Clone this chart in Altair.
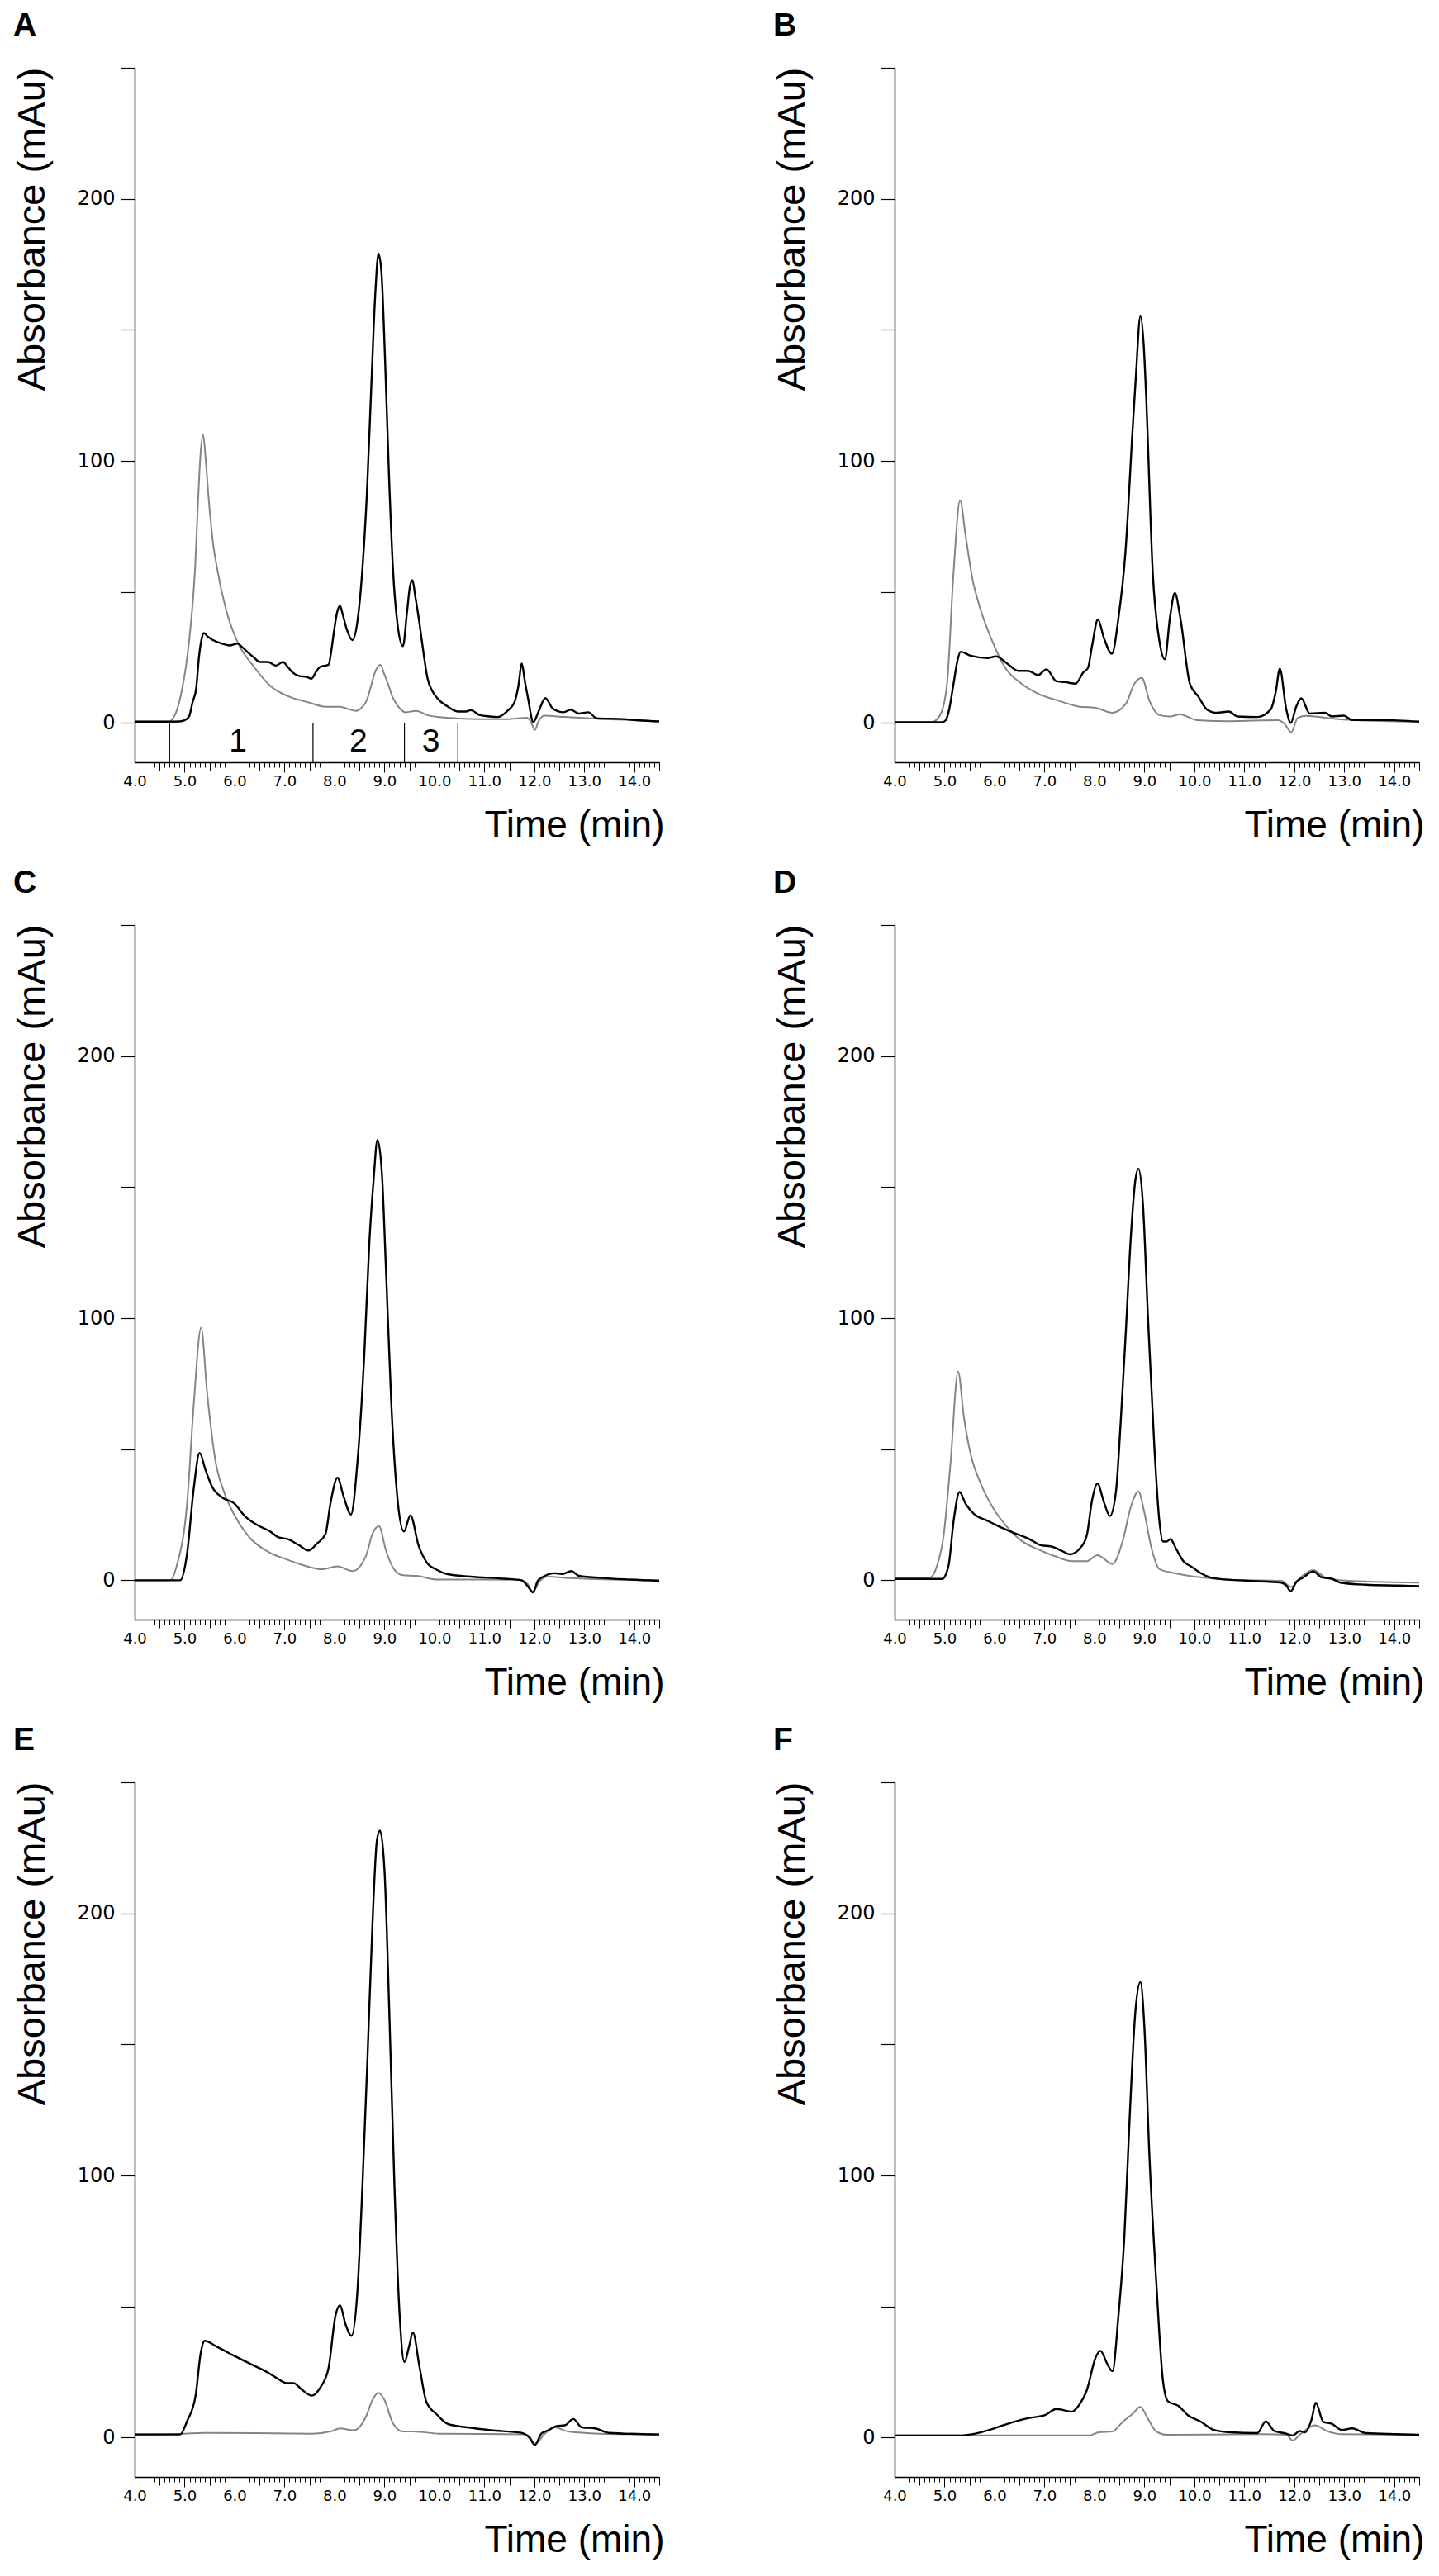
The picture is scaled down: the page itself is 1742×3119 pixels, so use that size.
import altair as alt
import pandas as pd

# ---------------- data (time in min, absorbance in mAu) ----------------
A_BLACK = [(4.0, 0.5), (4.6, 0.5), (4.9, 0.6), (5.0, 1.0), (5.09, 2.5), (5.16, 8), (5.23, 13), (5.29, 25.6),
           (5.34, 32), (5.39, 34.3), (5.46, 33), (5.56, 31.7), (5.75, 30.3), (5.9, 29.6), (6.06, 30.3),
           (6.15, 29), (6.28, 26.7), (6.4, 24.8), (6.5, 23.3), (6.67, 23.3), (6.83, 21.9), (6.97, 23.3),
           (7.06, 21.5), (7.16, 19.3), (7.3, 17.9), (7.44, 17.6), (7.54, 16.9), (7.63, 19.5), (7.71, 21.4),
           (7.88, 22.2), (7.94, 28), (7.99, 35), (8.05, 42), (8.11, 44.7), (8.17, 41), (8.24, 36.1),
           (8.36, 31.6), (8.47, 40.3), (8.56, 59), (8.65, 88), (8.74, 130), (8.82, 165), (8.88, 179),
           (8.94, 172), (9.01, 140), (9.09, 95), (9.17, 59), (9.26, 38), (9.37, 29.3), (9.45, 42),
           (9.51, 52), (9.56, 54.5), (9.62, 48), (9.7, 38.2), (9.78, 27), (9.86, 17.2), (9.95, 12.5),
           (10.08, 9.0), (10.25, 6.5), (10.47, 4.4), (10.63, 4.4), (10.73, 4.9), (10.91, 3.0), (11.1, 2.5),
           (11.27, 2.3), (11.46, 4.6), (11.6, 7.8), (11.68, 14), (11.75, 22.7), (11.81, 16), (11.87, 9.9),
           (11.98, 0.4), (12.09, 4.6), (12.22, 9.5), (12.37, 5.5), (12.59, 4.1), (12.73, 5.1), (12.89, 3.6),
           (13.08, 4.1), (13.25, 1.8), (13.77, 1.5), (14.1, 1.0), (14.5, 0.6)]
A_GRAY = [(4.0, 0.5), (4.68, 0.5), (4.82, 3.6), (4.96, 14), (5.03, 22), (5.1, 33), (5.21, 59), (5.27, 85),
          (5.32, 103), (5.37, 110), (5.42, 101), (5.48, 86), (5.56, 70), (5.65, 59), (5.84, 42.4),
          (6.06, 30.9), (6.39, 21.4), (6.72, 14.1), (7.05, 10.4), (7.49, 7.8), (7.82, 6.2), (8.1, 6.2),
          (8.25, 5.5), (8.43, 4.6), (8.55, 6), (8.65, 8.8), (8.73, 14), (8.81, 19.3), (8.92, 22.2),
          (8.99, 19), (9.07, 15.1), (9.16, 10), (9.26, 6.7), (9.42, 4.1), (9.53, 4.4), (9.64, 4.6),
          (9.86, 3.0), (10.25, 2.0), (10.9, 1.5), (11.5, 1.5), (11.85, 2.0), (11.93, 0.5), (12.01, -2.7),
          (12.08, 0.5), (12.2, 2.8), (12.6, 2.3), (13.2, 1.7), (13.8, 1.2), (14.5, 0.6)]

B_BLACK = [(4.0, 0.3), (4.95, 0.3), (5.02, 1.0), (5.08, 4.1), (5.18, 15), (5.26, 24), (5.32, 27.2),
           (5.52, 25.7), (5.86, 24.8), (6.03, 25.4), (6.26, 22.6), (6.47, 19.9), (6.67, 19.9), (6.87, 18.3),
           (7.04, 20.5), (7.24, 15.9), (7.41, 15.6), (7.62, 15.0), (7.78, 19.4), (7.87, 21.0), (7.95, 29.2),
           (8.07, 39.5), (8.19, 32.4), (8.35, 26.4), (8.48, 40), (8.62, 65), (8.76, 110.8), (8.83, 132.5),
           (8.92, 155.2), (8.99, 143), (9.03, 127), (9.17, 56.4), (9.3, 31.3), (9.41, 24.3), (9.51, 40),
           (9.61, 49.6), (9.72, 40), (9.91, 15), (10.08, 10.1), (10.25, 5.2), (10.45, 3.9), (10.69, 4.4),
           (10.86, 2.5), (11.26, 2.3), (11.53, 5.2), (11.63, 12), (11.71, 20.7), (11.84, 5.2), (11.93, 0),
           (12.04, 6.3), (12.14, 9.4), (12.31, 3.6), (12.62, 3.9), (12.75, 2.5), (12.99, 2.8), (13.16, 1.1),
           (13.76, 1.1), (14.5, 0.5)]
B_GRAY = [(4.0, 0.3), (4.74, 0.3), (4.91, 3), (5.05, 15), (5.18, 57.5), (5.31, 84.9), (5.42, 71.6),
          (5.555, 55.3), (5.72, 43.3), (5.93, 32.4), (6.2, 21.5), (6.54, 15.0), (6.87, 11.2), (7.28, 8.5),
          (7.68, 6.3), (8.02, 5.8), (8.36, 3.9), (8.63, 7.4), (8.8, 15), (8.95, 17.2), (9.1, 8.5), (9.3, 3.0),
          (9.51, 2.5), (9.71, 3.3), (10.05, 1.1), (10.72, 0.7), (11.67, 1.1), (11.8, -0.2), (11.94, -3.5),
          (12.07, 2), (12.24, 2.7), (12.75, 1.7), (13.2, 1.1), (14.5, 0.5)]

C_BLACK = [(4.0, 0), (4.91, 0), (5.05, 10.3), (5.18, 34.6), (5.3, 48.6), (5.42, 42), (5.55, 35.7), (5.76, 31.5),
           (5.99, 29.4), (6.2, 24.6), (6.47, 20.9), (6.7, 18.8), (6.87, 16.5), (7.08, 15.6), (7.28, 13.5),
           (7.48, 11.4), (7.65, 14), (7.82, 17.7), (7.92, 29.4), (8.06, 39.1), (8.19, 31.5), (8.33, 25.1),
           (8.46, 45.2), (8.6, 87.4), (8.7, 129.7), (8.78, 152), (8.86, 168), (8.95, 155), (9.03, 119),
           (9.14, 66.3), (9.27, 29.4), (9.39, 18.6), (9.52, 24.8), (9.68, 13.5), (9.85, 6.7), (10.05, 4.0),
           (10.25, 2.4), (10.72, 1.4), (11.4, 0.6), (11.74, 0), (11.87, -2.3), (11.97, -4.6), (12.07, -0.2),
           (12.18, 1.4), (12.41, 2.7), (12.55, 2.4), (12.74, 3.5), (12.89, 1.7), (13.43, 0.8), (14.5, -0.2)]
C_GRAY = [(4.0, 0), (4.71, 0), (4.85, 6.1), (5.05, 29.4), (5.18, 66.3), (5.33, 96.4), (5.45, 71.6),
          (5.62, 45.2), (5.79, 33.6), (5.99, 25.1), (6.26, 17.2), (6.67, 10.9), (7.01, 8.2), (7.35, 5.9),
          (7.75, 4.2), (8.06, 5.3), (8.36, 3.5), (8.63, 9.3), (8.76, 17.7), (8.89, 20.7), (9.03, 11.4),
          (9.2, 4.0), (9.37, 1.9), (9.64, 1.7), (10.05, 0.3), (11.7, 0.2), (11.87, -1.5), (11.97, -4.4),
          (12.1, -0.5), (12.27, 1.4), (12.7, 0.8), (14.5, 0)]

D_BLACK = [(4.0, 0.5), (4.95, 0.5), (5.08, 5.6), (5.18, 22.5), (5.3, 33.7), (5.42, 29.2), (5.59, 25.3),
           (5.86, 22.7), (6.13, 20.2), (6.4, 18), (6.67, 16), (6.94, 13.3), (7.14, 12.9), (7.35, 11.2),
           (7.51, 9.9), (7.72, 12.4), (7.85, 17.4), (7.95, 30.3), (8.06, 36.9), (8.19, 29.8), (8.31, 24.5),
           (8.43, 33.7), (8.53, 61.8), (8.63, 95.5), (8.73, 131.5), (8.82, 152.8), (8.88, 157.1),
           (8.97, 143.8), (9.07, 101), (9.2, 50.6), (9.3, 22.5), (9.37, 14.8), (9.45, 14.8), (9.52, 15.7),
           (9.64, 11.8), (9.78, 7.3), (9.95, 5.1), (10.12, 2.8), (10.39, 0.8), (11.06, -0.2), (11.74, -0.9),
           (11.84, -2), (11.93, -4.2), (12.04, -0.6), (12.18, 1.1), (12.38, 3.4), (12.55, 1.1), (12.75, 0.6),
           (12.92, -0.9), (13.43, -1.7), (14.1, -2), (14.5, -2.2)]
D_GRAY = [(4.0, 1.1), (4.71, 1.1), (4.85, 5.6), (4.98, 16.9), (5.12, 44.9), (5.27, 79.6), (5.39, 61.8),
          (5.52, 48.3), (5.72, 37.1), (5.99, 27), (6.26, 20.2), (6.53, 15.2), (6.87, 11.8), (7.21, 9.2),
          (7.55, 7.3), (7.85, 7.3), (8.06, 9.6), (8.36, 6.2), (8.56, 14.6), (8.73, 28.1), (8.88, 33.9),
          (9.0, 25.8), (9.14, 12.4), (9.3, 4.3), (9.58, 2.8), (10.05, 1.3), (10.72, 0.2), (11.74, -0.2),
          (11.94, -2.5), (12.14, 1.3), (12.38, 3.9), (12.62, 1.1), (12.95, 0), (14.5, -0.9)]

E_BLACK = [(4.0, 1.2), (4.91, 1.2), (5.05, 6.3), (5.22, 16), (5.32, 32), (5.4, 36.9), (5.66, 34.5),
           (5.99, 31.2), (6.33, 28), (6.67, 24.8), (6.87, 22.4), (7.04, 20.8), (7.18, 20.8), (7.34, 18.4),
           (7.55, 16), (7.72, 19.2), (7.88, 26.4), (8.02, 46.5), (8.11, 50.5), (8.22, 43.3), (8.34, 38.8),
           (8.46, 56.1), (8.56, 96.3), (8.66, 144.5), (8.76, 195.9), (8.85, 228), (8.91, 231.6),
           (9.0, 216.8), (9.1, 160.6), (9.2, 96.3), (9.3, 48.1), (9.4, 28.8), (9.49, 34.5), (9.57, 40.1),
           (9.7, 27.2), (9.84, 13.6), (10.05, 8.8), (10.28, 5.1), (10.66, 3.9), (11.13, 2.8), (11.74, 1.8),
           (11.9, 0), (12.01, -2.8), (12.14, 1.5), (12.28, 2.8), (12.45, 4.4), (12.61, 4.7), (12.78, 7.1),
           (12.95, 3.9), (13.22, 3.5), (13.49, 1.8), (14.5, 1.2)]
E_GRAY = [(4.0, 1.2), (5.0, 1.5), (5.38, 1.8), (7.55, 1.5), (7.95, 2.5), (8.11, 3.5), (8.39, 2.8), (8.63, 8),
          (8.76, 14.4), (8.88, 17.1), (9.0, 14.4), (9.17, 5.5), (9.37, 2.3), (9.57, 2.3), (10.11, 1.5),
          (11.8, 1.2), (11.92, 0), (12.01, -2.5), (12.21, 1.5), (12.41, 3.9), (12.68, 2.3), (13.3, 1.5),
          (14.5, 1.2)]

F_BLACK = [(4.0, 0.8), (5.32, 0.8), (5.72, 2), (5.99, 3.5), (6.33, 5.7), (6.67, 7.4), (7.01, 8.6),
           (7.24, 10.9), (7.55, 9.9), (7.68, 12.1), (7.85, 18.2), (8.02, 30.4), (8.12, 33.1), (8.26, 28),
           (8.36, 25.3), (8.48, 46.4), (8.6, 77), (8.7, 119.9), (8.82, 162.7), (8.92, 173.8), (9.0, 156.6),
           (9.1, 107.6), (9.24, 58.6), (9.37, 21.9), (9.47, 13.9), (9.68, 12.1), (9.88, 8.4), (10.12, 6.2),
           (10.39, 2.9), (10.72, 2), (11.26, 1.7), (11.43, 6.2), (11.6, 2.5), (11.8, 1.7), (11.97, 0.8),
           (12.11, 2.5), (12.21, 2), (12.35, 7.2), (12.43, 13.3), (12.58, 6), (12.75, 5.3), (12.95, 2.9),
           (13.16, 3.5), (13.43, 1.7), (14.5, 1.1)]
F_GRAY = [(4.0, 0.8), (7.89, 0.8), (8.09, 2), (8.36, 2.3), (8.56, 5.9), (8.76, 9), (8.92, 11.7), (9.07, 7.2),
          (9.24, 2.3), (9.44, 1.1), (11.4, 1.3), (11.84, 1.1), (11.97, -1.1), (12.11, 1.1), (12.41, 4.7),
          (12.68, 2.3), (12.95, 1.3), (14.5, 1.1)]

# fraction boundaries and labels drawn in panel A
DIVIDER_T = [4.7, 7.57, 9.4, 10.47]
DIVIDER_TOP = 0
DIVIDER_BOTTOM = -15
REGION_T = [6.07, 8.48, 9.93]
REGION_LABELS = ["1", "2", "3"]
REGION_V = -11

PANEL_LETTERS = ["A", "B", "C", "D", "E", "F"]
PANEL_DATA = [(A_BLACK, A_GRAY), (B_BLACK, B_GRAY), (C_BLACK, C_GRAY),
              (D_BLACK, D_GRAY), (E_BLACK, E_GRAY), (F_BLACK, F_GRAY)]

X_DOMAIN = [4.0, 14.5]
Y_DOMAIN = [-15, 250]
X_TICK_VALUES = [round(4.0 + 0.1 * i, 1) for i in range(106)]
Y_TICK_VALUES = [0, 50, 100, 150, 200, 250]

# ---------------- styling ----------------
FONT = "Liberation Sans"
NUM_FONT = "DejaVu Sans"
GRAY = "#858585"
MAJOR = "abs(datum.value - round(datum.value)) < 0.001"
HALF = "abs(datum.value * 2 - round(datum.value * 2)) < 0.001"

x_axis = alt.Axis(
    values=X_TICK_VALUES, format=".1f",
    labelExpr=f"{MAJOR} ? datum.label : ''",
    labelOverlap=False, labelFlush=False, labelBound=False,
    labelFont=NUM_FONT, labelFontSize=18, labelColor="black", labelPadding=2,
    tickColor="black", tickWidth=1,
    tickSize={"condition": [{"test": MAJOR, "value": 12}, {"test": HALF, "value": 10}], "value": 6},
    domainColor="black", domainWidth=1.5, grid=False,
    title="Time (min)", titleFont=FONT, titleFontSize=46, titleFontWeight="normal",
    titleColor="black", titleAlign="right", titleBaseline="alphabetic", titleX=641, titleY=90,
)
y_axis = alt.Axis(
    values=Y_TICK_VALUES, format="d",
    labelExpr="datum.value % 100 == 0 ? datum.label : ''",
    labelOverlap=False, labelFont=NUM_FONT, labelFontSize=24, labelColor="black", labelPadding=7,
    tickColor="black", tickSize=17, tickWidth=1.2,
    domainColor="black", domainWidth=1.5, grid=False,
    title="Absorbance (mAu)", titleFont=FONT, titleFontSize=47, titleFontWeight="normal",
    titleColor="black", titleAngle=270, titleAlign="right", titleBaseline="alphabetic",
    titleX=-110, titleY=-1,
)


def xenc():
    return alt.X("t:Q", scale=alt.Scale(domain=X_DOMAIN, nice=False, zero=False), axis=x_axis)


def yenc():
    return alt.Y("v:Q", scale=alt.Scale(domain=Y_DOMAIN, nice=False, zero=False), axis=y_axis)


def panel(letter, black, gray, regions=False):
    gdf = pd.DataFrame(gray, columns=["t", "v"])
    bdf = pd.DataFrame(black, columns=["t", "v"])
    layers = [
        alt.Chart(gdf).mark_line(color=GRAY, strokeWidth=2.0, interpolate="monotone", clip=True)
        .encode(x=xenc(), y=yenc()),
        alt.Chart(bdf).mark_line(color="black", strokeWidth=2.4, interpolate="monotone", clip=True)
        .encode(x=xenc(), y=yenc()),
    ]
    if regions:
        ddf = pd.DataFrame({"t": DIVIDER_T, "v": [DIVIDER_TOP] * len(DIVIDER_T),
                            "v2": [DIVIDER_BOTTOM] * len(DIVIDER_T)})
        rdf = pd.DataFrame({"t": REGION_T, "v": [REGION_V] * len(REGION_T), "lab": REGION_LABELS})
        layers.append(alt.Chart(ddf).mark_rule(color="black", strokeWidth=1.2)
                      .encode(x=xenc(), y=yenc(), y2="v2:Q"))
        layers.append(alt.Chart(rdf).mark_text(font=FONT, fontSize=39, baseline="alphabetic",
                                               align="center", color="black")
                      .encode(x=xenc(), y=yenc(), text="lab:N"))
    return alt.layer(*layers).properties(
        width=635, height=841,
        title=alt.TitleParams(letter, anchor="start", frame="group", dx=-147, offset=-12,
                              baseline="alphabetic", font=FONT, fontSize=39,
                              fontWeight="bold", color="black"),
    )


panels = [panel(L, b, g, regions=(L == "A")) for L, (b, g) in zip(PANEL_LETTERS, PANEL_DATA)]

chart = alt.concat(
    *panels, columns=2, spacing={"row": 197, "column": 285}, bounds="flush"
).properties(
    padding={"left": 7, "top": 4, "right": 5, "bottom": 5}, background="white"
).configure_view(strokeOpacity=0)

chart.save("out.html", embed_options={"renderer": "svg", "actions": False})
